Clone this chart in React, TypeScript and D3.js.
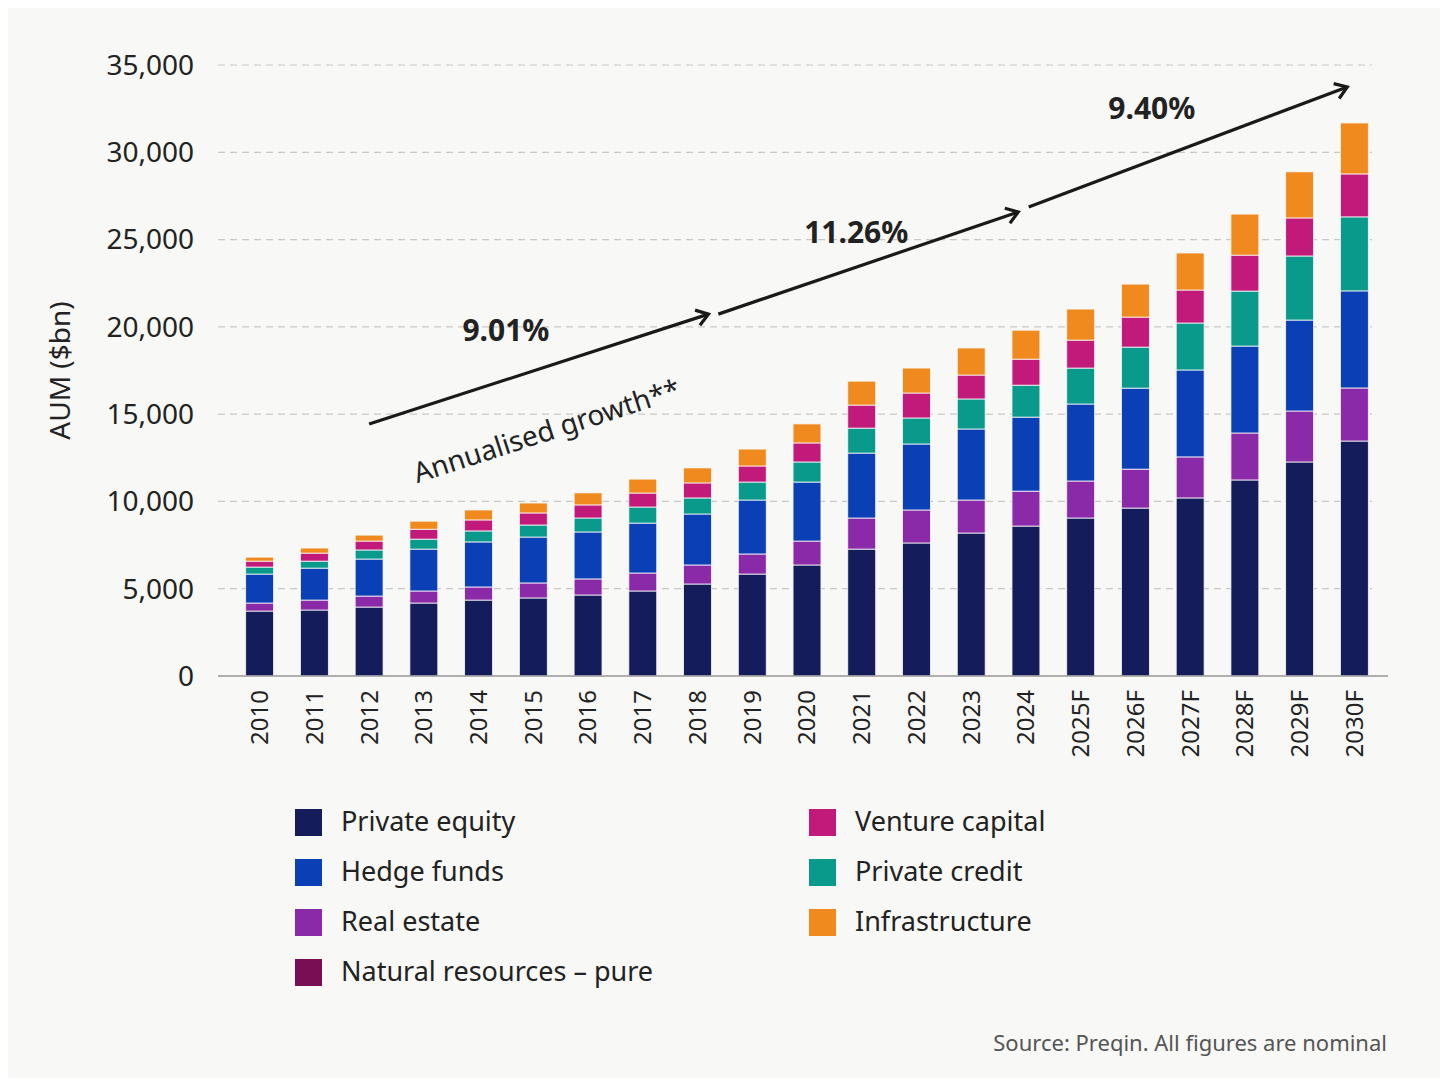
import { useEffect, useRef } from "react";
import * as d3 from "d3";

const years = ["2010", "2011", "2012", "2013", "2014", "2015", "2016", "2017", "2018", "2019", "2020",
  "2021", "2022", "2023", "2024", "2025F", "2026F", "2027F", "2028F", "2029F", "2030F"];

const privateEquity = [3720, 3780, 3950, 4180, 4350, 4470, 4640, 4870, 5270, 5840, 6360, 7270, 7620, 8190, 8590, 9050, 9620, 10200, 11230, 12260, 13460];
const realEstate = [460, 570, 630, 690, 750, 860, 920, 1030, 1090, 1150, 1370, 1780, 1890, 1890, 2000, 2120, 2230, 2350, 2690, 2920, 3040];
const naturalResources = [0, 0, 0, 0, 0, 0, 0, 0, 0, 0, 0, 0, 0, 0, 0, 0, 0, 0, 0, 0, 0];
const hedgeFunds = [1660, 1830, 2120, 2400, 2580, 2630, 2690, 2860, 2920, 3090, 3380, 3720, 3780, 4070, 4240, 4410, 4640, 4980, 4980, 5210, 5560];
const privateCredit = [400, 400, 520, 570, 630, 690, 800, 920, 920, 1030, 1150, 1430, 1490, 1720, 1830, 2060, 2350, 2690, 3150, 3670, 4240];
const ventureCapital = [340, 460, 510, 570, 630, 690, 750, 800, 860, 920, 1090, 1320, 1430, 1370, 1490, 1600, 1720, 1890, 2060, 2180, 2460];
const infrastructure = [230, 290, 340, 460, 570, 570, 690, 800, 860, 970, 1090, 1370, 1430, 1550, 1660, 1780, 1890, 2120, 2350, 2640, 2920];

const yTicks = [0, 5000, 10000, 15000, 20000, 25000, 30000, 35000];

// stack order, bottom to top
const series = [
  { key: "pe", name: "Private equity", color: "#141c5c", values: privateEquity },
  { key: "re", name: "Real estate", color: "#8a2aa8", values: realEstate },
  { key: "nr", name: "Natural resources – pure", color: "#7a0e55", values: naturalResources },
  { key: "hf", name: "Hedge funds", color: "#0a3fb5", values: hedgeFunds },
  { key: "pc", name: "Private credit", color: "#0a9a8c", values: privateCredit },
  { key: "vc", name: "Venture capital", color: "#c21a7a", values: ventureCapital },
  { key: "in", name: "Infrastructure", color: "#f08a1e", values: infrastructure },
];

const legendLeft = ["Private equity", "Hedge funds", "Real estate", "Natural resources – pure"];
const legendRight = ["Venture capital", "Private credit", "Infrastructure"];

// growth arrows: [start index, start value, end index, end value]
const growth = [
  { label: "9.01%", from: [2, 14430], to: [8.2, 20730], text: [4.5, 19800] },
  { label: "11.26%", from: [8.38, 20730], to: [13.86, 26580], text: [10.9, 25400] },
  { label: "9.40%", from: [14.05, 26870], to: [19.87, 33740], text: [16.3, 32500] },
];

export default function App() {
  const svgRef = useRef<SVGSVGElement>(null);

  useEffect(() => {
    const svg = d3.select(svgRef.current);
    svg.selectAll("*").remove();
    const font = "'Noto Sans', 'DejaVu Sans', sans-serif";

    svg.append("rect").attr("width", 1448).attr("height", 1086).attr("fill", "#f8f8f6");

    const left = 218, right = 1388, top = 65, bottom = 676;
    const x = d3.scaleBand<string>().domain(years).range([232, 1382]).paddingInner(0.49).paddingOuter(0.25);
    const y = d3.scaleLinear().domain([0, 35000]).range([bottom, top]);
    const bw = x.bandwidth();
    const xc = (i: number) => (x(years[0]) as number) + bw / 2 + i * x.step();

    // grid
    svg.append("g").selectAll("line").data(yTicks.slice(1)).enter().append("line")
      .attr("x1", left).attr("x2", 1372).attr("y1", (d) => y(d)).attr("y2", (d) => y(d))
      .attr("stroke", "#c8c8c8").attr("stroke-dasharray", "7,5").attr("stroke-width", 1.2);

    svg.append("g").selectAll("text").data(yTicks).enter().append("text")
      .attr("x", 194).attr("y", (d) => y(d)).attr("dy", "0.35em").attr("text-anchor", "end")
      .style("font-family", font).style("font-size", "28px").style("fill", "#222")
      .text((d) => d3.format(",")(d));

    svg.append("text")
      .attr("transform", `translate(60,${(top + bottom) / 2}) rotate(-90)`)
      .attr("text-anchor", "middle").attr("dy", "0.35em")
      .style("font-family", font).style("font-size", "28px").style("fill", "#222")
      .text("AUM ($bn)");

    // stacked bars
    const table = years.map((yr, i) => {
      const row: any = { year: yr };
      series.forEach((s) => (row[s.key] = s.values[i]));
      return row;
    });
    const stack = d3.stack<any>().keys(series.map((s) => s.key))(table);
    stack.forEach((layer, li) => {
      svg.append("g").selectAll("rect").data(layer).enter().append("rect")
        .attr("x", (d) => x(d.data.year) as number)
        .attr("width", bw)
        .attr("y", (d) => y(d[1]))
        .attr("height", (d) => Math.max(0, y(d[0]) - y(d[1])))
        .attr("fill", series[li].color)
        .attr("stroke", "#f8f8f6").attr("stroke-width", 0.8);
    });

    svg.append("line").attr("x1", left).attr("x2", right).attr("y1", bottom).attr("y2", bottom)
      .attr("stroke", "#999").attr("stroke-width", 1.5);

    svg.append("g").selectAll("text").data(years).enter().append("text")
      .attr("transform", (d) => `translate(${(x(d) as number) + bw / 2},${bottom + 14}) rotate(-90)`)
      .attr("text-anchor", "end").attr("dy", "0.35em")
      .style("font-family", font).style("font-size", "24px").style("fill", "#222")
      .text((d) => d);

    // growth arrows
    growth.forEach((g) => {
      const x1 = xc(g.from[0]), y1 = y(g.from[1]), x2 = xc(g.to[0]), y2 = y(g.to[1]);
      svg.append("line").attr("x1", x1).attr("y1", y1).attr("x2", x2).attr("y2", y2)
        .attr("stroke", "#1a1a1a").attr("stroke-width", 3.2);
      const a = Math.atan2(y2 - y1, x2 - x1);
      const h = 14;
      const p = [
        [x2 - h * Math.cos(a - 0.6), y2 - h * Math.sin(a - 0.6)],
        [x2, y2],
        [x2 - h * Math.cos(a + 0.6), y2 - h * Math.sin(a + 0.6)],
      ];
      svg.append("path").attr("d", d3.line()(p as [number, number][]))
        .attr("fill", "none").attr("stroke", "#1a1a1a").attr("stroke-width", 3.2);
      svg.append("text").attr("x", xc(g.text[0])).attr("y", y(g.text[1])).attr("dy", "0.35em")
        .attr("text-anchor", "middle")
        .style("font-family", font).style("font-size", "30px").style("font-weight", "bold").style("fill", "#222")
        .text(g.label);
    });

    const g0 = growth[0];
    const ang = (Math.atan2(y(g0.to[1]) - y(g0.from[1]), xc(g0.to[0]) - xc(g0.from[0])) * 180) / Math.PI;
    svg.append("text")
      .attr("transform", `translate(${xc(5.3)},${y(13500)}) rotate(${ang})`)
      .attr("text-anchor", "middle")
      .style("font-family", font).style("font-size", "28px").style("fill", "#222")
      .text("Annualised growth**");

    // legend
    const colorOf = (n: string) => series.find((s) => s.name === n)!.color;
    const drawLegend = (names: string[], lx: number) => {
      names.forEach((n, i) => {
        const cy = 822 + i * 50;
        svg.append("rect").attr("x", lx).attr("y", cy - 13).attr("width", 27).attr("height", 27)
          .attr("fill", colorOf(n));
        svg.append("text").attr("x", lx + 46).attr("y", cy).attr("dy", "0.35em")
          .style("font-family", font).style("font-size", "27px").style("fill", "#222").text(n);
      });
    };
    drawLegend(legendLeft, 295);
    drawLegend(legendRight, 809);

    svg.append("text").attr("x", 1387).attr("y", 1043).attr("dy", "0.35em").attr("text-anchor", "end")
      .style("font-family", font).style("font-size", "22px").style("fill", "#555")
      .text("Source: Preqin. All figures are nominal");
  }, []);

  return (
    <div style={{ margin: -8 }}>
      <svg ref={svgRef} width={1448} height={1086} style={{ display: "block" }} />
    </div>
  );
}
